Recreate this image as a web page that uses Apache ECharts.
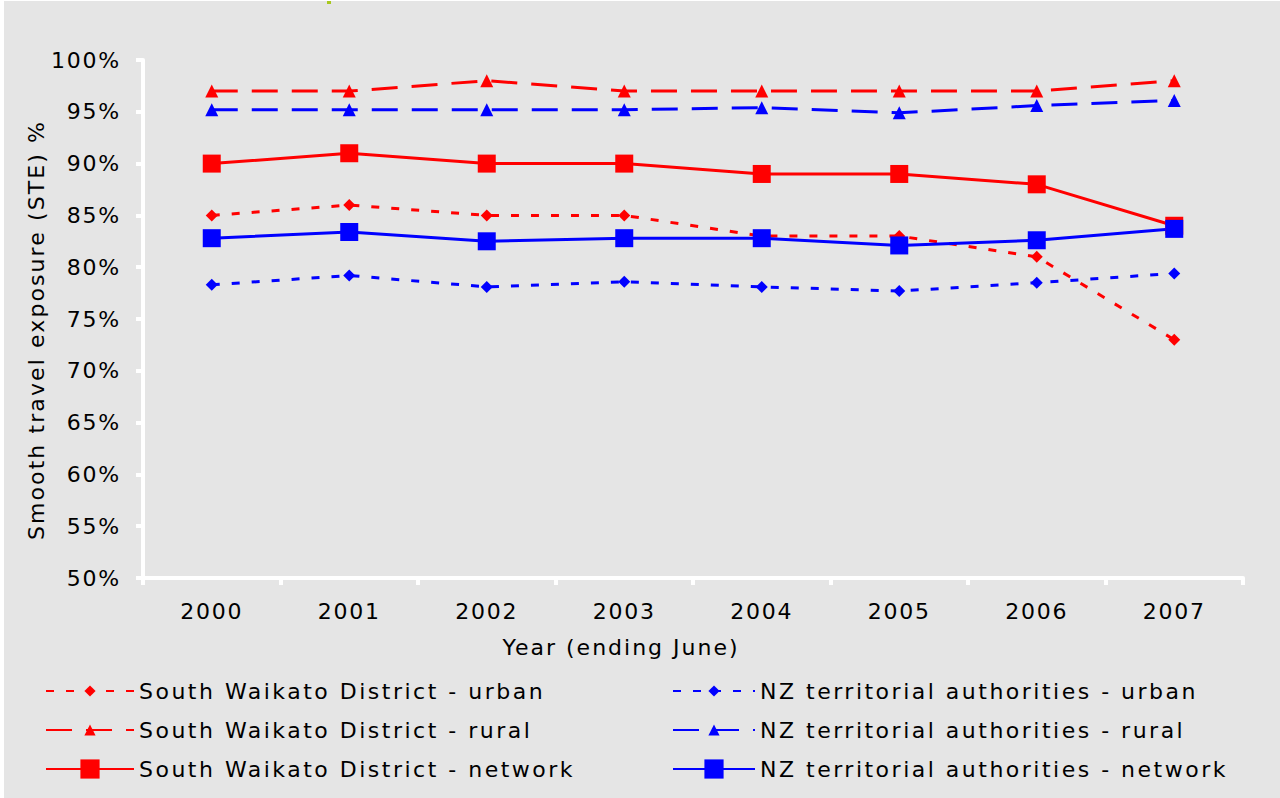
<!DOCTYPE html>
<html>
<head>
<meta charset="utf-8">
<script src="https://cdn.jsdelivr.net/npm/echarts@6/dist/echarts.min.js"></script>
<style>
  html, body { margin: 0; padding: 0; background: #ffffff; }
  #chart { margin-left: 4px; margin-top: 1px; width: 1276px; height: 797px; }
</style>
</head>
<body>
<div id="chart"></div>
<script>
// categories and values (percent)
const years = ['2000', '2001', '2002', '2003', '2004', '2005', '2006', '2007'];
const swUrban = [85, 86, 85, 85, 83, 83, 81, 73];
const swRural = [97, 97, 98, 97, 97, 97, 97, 98];
const swNetwork = [90, 91, 90, 90, 89, 89, 88, 84];
const nzUrban = [78.3, 79.2, 78.1, 78.6, 78.1, 77.7, 78.5, 79.4];
const nzRural = [95.2, 95.2, 95.2, 95.2, 95.4, 94.9, 95.6, 96.1];
const nzNetwork = [82.8, 83.4, 82.5, 82.8, 82.8, 82.1, 82.6, 83.7];
const seriesNames = [
  'South Waikato District - urban',
  'South Waikato District - rural',
  'South Waikato District - network',
  'NZ territorial authorities - urban',
  'NZ territorial authorities - rural',
  'NZ territorial authorities - network'
];
const yTitle = 'Smooth travel exposure (STE) %';
const xTitle = 'Year (ending June)';

const RED = '#ff0000';
const BLUE = '#0000ff';
const FONT = 'DejaVu Sans';

const chart = echarts.init(document.getElementById('chart'), null, { renderer: 'svg' });

function mkSeries(name, data, color, symbol, size, dash) {
  return {
    name: name,
    type: 'line',
    data: data,
    symbol: symbol,
    symbolSize: size,
    showAllSymbol: true,
    itemStyle: { color: color },
    lineStyle: { color: color, width: 3, type: dash },
    emphasis: { disabled: true },
    z: symbol === 'rect' ? 3 : 2
  };
}

function mkLegend(name, left, top, w, h) {
  return {
    data: [name],
    left: left,
    top: top,
    padding: 0,
    itemWidth: w,
    itemHeight: h,
    itemGap: 5,
    selectedMode: false,
    textStyle: { fontFamily: FONT, fontSize: 22, color: '#000' }
  };
}

const option = {
  backgroundColor: '#e5e5e5',
  animation: false,
  textStyle: { fontFamily: FONT },
  title: {
    text: xTitle,
    left: 612,
    top: 630,
    textAlign: 'center',
    textStyle: { fontFamily: FONT, fontSize: 22, fontWeight: 'normal', color: '#000' }
  },
  graphic: [
    { type: 'rect', left: 323, top: -1, shape: { width: 4, height: 4 }, style: { fill: '#a8c81e' }, silent: true },
    {
      type: 'text', x: 32, y: 329, rotation: Math.PI / 2, silent: true,
      style: { text: yTitle, font: '22px "DejaVu Sans"', fill: '#000', align: 'center', verticalAlign: 'middle' }
    }
  ],
  grid: { left: 139, right: 37, top: 59, bottom: 220 },
  xAxis: {
    type: 'category',
    data: years,
    boundaryGap: true,
    axisLine: { lineStyle: { color: '#ffffff', width: 4 } },
    axisTick: { show: true, length: 7, lineStyle: { color: '#ffffff', width: 4 } },
    axisLabel: { color: '#000', fontSize: 22, fontFamily: FONT, margin: 22 }
  },
  yAxis: {
    type: 'value',
    min: 50,
    max: 100,
    interval: 5,
    axisLine: { show: true, lineStyle: { color: '#ffffff', width: 4 } },
    axisTick: { show: true, length: 7, lineStyle: { color: '#ffffff', width: 4 } },
    splitLine: { show: false },
    axisLabel: { color: '#000', fontSize: 22, fontFamily: FONT, margin: 22, formatter: '{value}%' }
  },
  legend: [
    mkLegend(seriesNames[0], 41, 679, 88, 14),
    mkLegend(seriesNames[1], 41, 718, 88, 14),
    mkLegend(seriesNames[2], 41, 757, 88, 24),
    mkLegend(seriesNames[3], 668, 679, 82, 14),
    mkLegend(seriesNames[4], 668, 718, 82, 14),
    mkLegend(seriesNames[5], 668, 757, 82, 24)
  ],
  series: [
    mkSeries(seriesNames[0], swUrban, RED, 'diamond', 12, [8, 12]),
    mkSeries(seriesNames[1], swRural, RED, 'triangle', 13, [26, 14]),
    mkSeries(seriesNames[2], swNetwork, RED, 'rect', 18, 'solid'),
    mkSeries(seriesNames[3], nzUrban, BLUE, 'diamond', 12, [8, 12]),
    mkSeries(seriesNames[4], nzRural, BLUE, 'triangle', 13, [26, 14]),
    mkSeries(seriesNames[5], nzNetwork, BLUE, 'rect', 18, 'solid')
  ]
};

chart.setOption(option);

// the original font is wider (Verdana-like); widen the SVG text a little
function spaceText() {
  document.querySelectorAll('#chart svg text').forEach(function (t) {
    const s = t.textContent;
    let ls = '1.75px';
    if (seriesNames.indexOf(s) >= 0) ls = '2.5px';
    else if (s === yTitle) ls = '2.1px';
    else if (s === xTitle) ls = '2px';
    t.style.letterSpacing = ls;
  });
}
spaceText();
chart.on('finished', spaceText);
setTimeout(spaceText, 50);
</script>
</body>
</html>
